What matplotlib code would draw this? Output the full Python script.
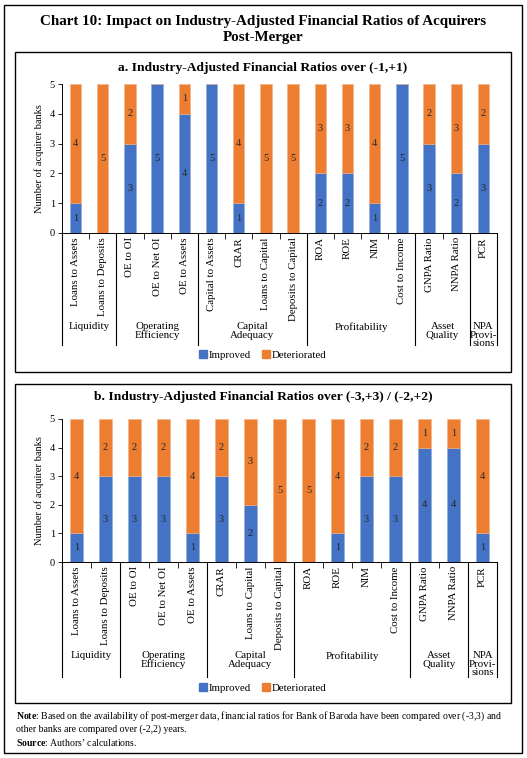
import numpy as np
import matplotlib
matplotlib.use('Agg')
import matplotlib.pyplot as plt
from matplotlib.patches import Rectangle, Patch

plt.rcParams['font.family'] = ['Liberation Serif', 'DejaVu Serif']
plt.rcParams['mathtext.fontset'] = 'custom'
plt.rcParams['mathtext.rm'] = 'Liberation Serif'
plt.rcParams['mathtext.bf'] = 'Liberation Serif:bold'

# ---- data ----
cats_a = ['Loans to Assets', 'Loans to Deposits', 'OE to OI', 'OE to Net OI', 'OE to Assets',
          'Capital to Assets', 'CRAR', 'Loans to Capital', 'Deposits to Capital',
          'ROA', 'ROE', 'NIM', 'Cost to Income', 'GNPA Ratio', 'NNPA Ratio', 'PCR']
improved_a = [1, 0, 3, 5, 4, 5, 1, 0, 0, 2, 2, 1, 5, 3, 2, 3]
deteriorated_a = [4, 5, 2, 0, 1, 0, 4, 5, 5, 3, 3, 4, 0, 2, 3, 2]
groups_a = ['Liquidity', 'Operating\nEfficiency', 'Capital\nAdequacy', 'Profitability',
            'Asset\nQuality', 'NPA\nProvi-\nsions']
group_sizes_a = [2, 3, 4, 4, 2, 1]

cats_b = ['Loans to Assets', 'Loans to Deposits', 'OE to OI', 'OE to Net OI', 'OE to Assets',
          'CRAR', 'Loans to Capital', 'Deposits to Capital',
          'ROA', 'ROE', 'NIM', 'Cost to Income', 'GNPA Ratio', 'NNPA Ratio', 'PCR']
improved_b = [1, 3, 3, 3, 1, 3, 2, 0, 0, 1, 3, 3, 4, 4, 1]
deteriorated_b = [4, 2, 2, 2, 4, 2, 3, 5, 5, 4, 2, 2, 1, 1, 4]
groups_b = groups_a
group_sizes_b = [2, 3, 3, 4, 2, 1]

BLUE = '#4472C4'
ORANGE = '#ED7D31'
W, H = 527, 758


def fx(x):
    return x / W


def fy(y):
    return 1 - y / H


def draw_panel(ax, cats, imp, det, groups, sizes, line_px):
    x = np.arange(len(cats))
    b1 = ax.bar(x, imp, width=0.42, color=BLUE, edgecolor='#8fa9dc', linewidth=0.4)
    b2 = ax.bar(x, det, width=0.42, bottom=imp, color=ORANGE, edgecolor='#f4b183', linewidth=0.4)
    for cont, vals in ((b1, imp), (b2, det)):
        ax.bar_label(cont, labels=[str(v) if v else '' for v in vals],
                     label_type='center', fontsize=7.5, color='#262626')
    ax.set_xlim(-0.5, len(cats) - 0.5)
    ax.set_ylim(0, 5)
    ax.set_yticks(range(6))
    ax.set_ylabel('Number of acquirer banks', fontsize=7.5, labelpad=4)
    ax.tick_params(axis='y', labelsize=7.5, length=3, width=0.6, pad=2)
    ax.set_xticks(np.arange(len(cats) + 1) - 0.5)
    ax.set_xticklabels([])
    ax.tick_params(axis='x', which='major', length=4, width=0.6)
    ax.set_xticks(x, minor=True)
    ax.set_xticklabels(cats, minor=True, rotation=90, fontsize=7.8)
    ax.tick_params(axis='x', which='minor', length=0, pad=3)
    for s in ('top', 'right'):
        ax.spines[s].set_visible(False)
    for s in ('left', 'bottom'):
        ax.spines[s].set_linewidth(0.7)

    ax_h = ax.get_position().height * H
    edges = np.concatenate([[0], np.cumsum(sizes)]) - 0.5
    for e in edges:
        ax.plot([e, e], [0, -line_px / ax_h], transform=ax.get_xaxis_transform(),
                clip_on=False, color='black', lw=0.8)
    for name, lo, hi in zip(groups, edges[:-1], edges[1:]):
        ax.annotate(name, xy=((lo + hi) / 2, 0), xycoords=('data', 'axes fraction'),
                    xytext=(0, -89 * 0.72), textcoords='offset points',
                    ha='center', va='top', fontsize=7.8, linespacing=0.95)


fig = plt.figure(figsize=(W / 100, H / 100), dpi=100)

# outer border and panel boxes
fig.add_artist(Rectangle((fx(4), fy(753)), fx(522 - 4), (753 - 5) / H,
                         transform=fig.transFigure, fill=False, lw=1, ec='black'))
fig.add_artist(Rectangle((fx(15), fy(372)), fx(511 - 15), (372 - 52) / H,
                         transform=fig.transFigure, fill=False, lw=1, ec='black'))
fig.add_artist(Rectangle((fx(15), fy(703)), fx(511 - 15), (703 - 384) / H,
                         transform=fig.transFigure, fill=False, lw=1, ec='black'))

fig.text(fx(263), fy(29.5), 'Chart 10: Impact on Industry-Adjusted Financial Ratios of Acquirers\nPost-Merger',
         ha='center', va='center', fontsize=10.8, fontweight='bold', linespacing=1.3)

ax_a = fig.add_axes([fx(62), fy(233), (497 - 62) / W, (233 - 84) / H])
draw_panel(ax_a, cats_a, improved_a, deteriorated_a, groups_a, group_sizes_a, 112)
fig.text(fx(263), fy(68), 'a. Industry-Adjusted Financial Ratios over (-1,+1)',
         ha='center', va='center', fontsize=9.7, fontweight='bold')

ax_b = fig.add_axes([fx(62), fy(562), (497 - 62) / W, (562 - 419) / H])
draw_panel(ax_b, cats_b, improved_b, deteriorated_b, groups_b, group_sizes_b, 115)
fig.text(fx(263), fy(397), 'b. Industry-Adjusted Financial Ratios over (-3,+3) / (-2,+2)',
         ha='center', va='center', fontsize=9.7, fontweight='bold')

handles = [Patch(color=BLUE, label='Improved'), Patch(color=ORANGE, label='Deteriorated')]
for yy in (355, 688):
    fig.legend(handles=handles, loc='center', bbox_to_anchor=(fx(263), fy(yy)), ncol=2,
               frameon=False, fontsize=7.8, handlelength=0.7, handleheight=0.7,
               handletextpad=0.2, columnspacing=1.0)

fig.text(fx(16), fy(716), r'$\bf{Note}$: Based on the availability of post-merger data, financial ratios for Bank of Baroda have been compared over (-3,3) and',
         fontsize=7.0, va='center')
fig.text(fx(16), fy(729), 'other banks are compared over (-2,2) years.', fontsize=7.0, va='center')
fig.text(fx(16), fy(742), r'$\bf{Source}$: Authors' + '\u2019 calculations.', fontsize=7.0, va='center')

fig.savefig('out.png', dpi=100)
